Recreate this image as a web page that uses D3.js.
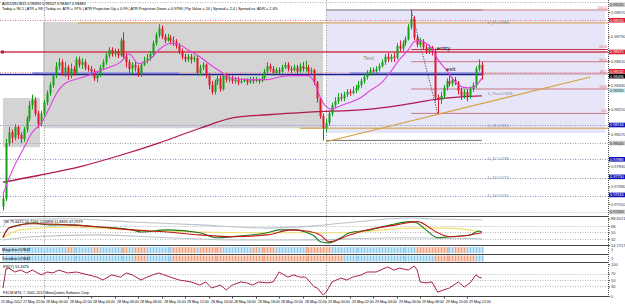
<!DOCTYPE html>
<html>
<head>
<meta charset="utf-8">
<script src="https://cdn.jsdelivr.net/npm/d3@7"></script>
<style>
  body { margin: 0; background: #fff; }
  svg { display: block; font-family: "Liberation Sans", Arial, sans-serif; }
</style>
</head>
<body>
<svg width="625" height="305"></svg>
<script>
// prices are kept in pips above 0.9700 (138 -> 0.9838)
const BASE = 0.97;

// M15 candles [open, high, low, close]
const bars = [
  [53,62,50,59],[59,103,57,100],[100,112,98,108],[108,110,100,104],[104,114,102,112],[112,113,103,106],
  [106,108,100,103],[103,112,101,110],[110,120,108,118],[118,131,116,128],[128,136,125,132],[132,134,120,122],
  [122,124,111,114],[114,124,112,122],[122,132,120,130],[130,139,128,137],[137,145,135,143],[143,152,141,150],
  [150,160,148,157],[157,163,154,160],[160,162,150,152],[152,160,149,156],[156,158,147,150],[150,159,148,155],
  [155,157,150,152],[152,164,151,162],[162,164,156,158],[158,163,155,160],[160,162,154,156],[156,158,153,155],
  [155,157,150,153],[153,155,146,148],[148,153,145,151],[151,158,149,156],[156,162,154,160],[160,167,158,165],
  [165,171,163,169],[169,171,164,166],[166,170,164,168],[168,170,163,165],[165,178,164,176],[176,182,162,164],
  [164,167,156,160],[160,162,152,155],[155,160,151,158],[158,161,153,156],[156,158,149,151],[151,160,149,158],
  [158,164,157,161],[161,166,159,163],[163,168,161,166],[166,176,164,174],[174,182,172,180],[180,188,178,185],
  [185,187,177,179],[179,181,174,176],[176,181,175,178],[178,180,173,176],[176,179,172,175],[175,177,170,172],
  [172,174,166,168],[168,170,162,164],[164,166,160,162],[162,166,160,164],[164,166,159,162],[162,165,160,163],
  [163,165,150,152],[152,158,150,156],[156,160,154,158],[158,159,148,150],[150,152,140,143],[143,146,136,138],
  [138,147,136,145],[145,150,143,148],[148,150,138,140],[140,152,139,150],[150,152,145,147],[147,150,145,148],
  [148,150,144,146],[146,149,144,147],[147,149,143,145],[145,148,144,146],[146,148,145,147],[147,148,143,145],
  [145,149,144,147],[147,149,144,146],[146,149,145,147],[147,148,144,146],[146,150,145,148],[148,155,147,153],
  [153,160,151,157],[157,159,153,155],[155,157,150,152],[152,156,151,154],[154,156,151,153],[153,158,152,156],
  [156,160,155,158],[158,160,153,155],[155,157,152,154],[154,158,153,156],[156,158,151,153],[153,159,152,157],
  [157,160,153,155],[155,161,153,156],[156,158,151,153],[153,156,151,154],[154,155,143,145],[145,146,130,133],
  [133,134,118,120],[120,122,102,111],[111,118,108,115],[115,124,113,122],[122,130,120,128],[128,134,126,131],
  [131,137,129,134],[134,137,131,133],[133,138,131,136],[136,140,134,138],[138,140,135,137],[137,142,136,139],
  [139,143,137,141],[141,146,139,143],[143,148,141,146],[146,151,144,149],[149,154,147,152],[152,156,150,154],
  [154,156,152,153],[153,157,152,155],[155,159,153,157],[157,162,156,160],[160,166,158,164],[164,167,160,162],
  [162,166,160,164],[164,167,160,163],[163,174,162,172],[172,176,168,170],[170,176,168,174],[174,179,172,177],
  [177,188,176,186],[186,198,184,192],[192,194,176,178],[178,180,171,173],[173,178,171,175],[175,177,169,171],
  [171,173,166,168],[168,173,166,171],[171,172,165,168],[168,170,131,134],[134,136,122,132],[132,138,129,135],
  [135,143,133,141],[141,148,139,146],[146,150,142,144],[144,149,142,147],[147,149,143,145],[145,146,136,139],
  [139,141,132,135],[135,140,133,138],[138,140,131,135],[135,142,133,140],[140,145,138,143],[143,157,141,155],
  [155,162,153,158],[158,160,147,150]
];

// moving averages [candle, pips]
const pinkMA = [[0,62],[3,79],[7,96],[10,108],[13,115],[16,127],[18,136],[21,144],[26,148],[29,150],[32,153],
  [36,156],[40,160],[43,166],[46,159],[50,162],[53,169],[57,174],[60,173],[63,169],[67,164],[70,159],[74,153],
  [78,148],[84,147],[90,147],[94,149],[98,150],[104,150],[106,145],[108,134],[110,127],[112,125],[114,127],
  [118,130],[122,134],[125,139],[129,145],[132,153],[135,162],[138,169],[140,175],[142,176],[144,174],[146,170],
  [148,162],[151,154],[153,148],[155,143],[158,141],[160,141],[162,145],[163,148]];
const maroonMA = [[0,71],[12,76],[27,83],[40,91],[53,100],[67,111],[79,119],[90,121],[104,123],[124,125],
  [135,128],[149,133],[163,135]];

// levels (pips)
const redLine = 167.5;
const navyLine = 150.8;
const dottedLevels = [
  { p: 204.5, c: '#b0b0b0' }, { p: 191, c: '#e0707e' }, { p: 152.7, c: '#e08aa0' },
  { p: 113.4, c: '#8c8cd0' }, { p: 100, c: '#a0a0a0' }, { p: 88, c: '#9090b8' },
  { p: 74, c: '#9090b8' }, { p: 61, c: '#9090b8' }, { p: 49, c: '#c0c0c0' }
];
const pivotNames = ['D_R1 0.9889', 'D_Pivot 0.9838', 'D_S1 0.9813', 'D_S2 0.9788', 'D_S3 0.9774', 'D_S4 0.9761'];
const pivotPips = [189, 138, 113, 88, 74, 61];

// fibonacci from the day high to the pull-back low
const fibHigh = 198.6, fibLow = 122, fibFrom = 139, fibTo = 148;
const fibRatios = [0, 23.6, 38.2, 50, 61.8, 100];
const trend = [[110, 101], [200, 149]];

// right axis
const priceTicks = [197, 179, 161, 143, 125, 107, 83, 68, 55];
const priceBoxes = [
  { p: 202.5, c: '#c8c8c8', t: '#333' }, { p: 191, c: '#e01e30', t: '#fff' }, { p: 167.5, c: '#e01e30', t: '#fff' },
  { p: 153.2, c: '#e01e30', t: '#fff' }, { p: 149.6, c: '#000', t: '#fff' }, { p: 139, c: '#bfe8f0', t: '#333' },
  { p: 113.4, c: '#1010c0', t: '#fff' }, { p: 100, c: '#c8c8c8', t: '#333' }, { p: 88, c: '#1010c0', t: '#fff' },
  { p: 75, c: '#1010c0', t: '#fff' }, { p: 61.6, c: '#1010c0', t: '#fff' }, { p: 49, c: '#c8c8c8', t: '#333' }
];

// TSI panel [candle, value]
const tsiGreen = [[0,38],[2,62],[6,71],[10,76],[16,71],[22,71],[33,65],[44,57],[47,51],[56,57],[67,49],[73,35],
  [78,38],[90,49],[94,57],[99,57],[103,51],[106,40],[108,24],[111,21],[115,35],[118,49],[125,57],[132,71],
  [139,80],[141,76],[144,57],[148,35],[152,38],[159,43],[162,54],[163,51]];
const tsiRed = [[0,35],[2,62],[10,74],[22,71],[33,65],[44,57],[56,51],[67,43],[78,38],[90,43],[98,57],[103,54],
  [108,43],[111,24],[118,43],[127,62],[134,71],[141,80],[148,49],[152,38],[159,43],[163,49]];
const tsiYellow = [[0,35],[6,57],[22,65],[44,57],[67,51],[90,49],[108,49],[116,49],[139,62],[152,62],[163,51]];
const tsiUpper = [[0,65],[2,85],[22,88],[44,79],[67,71],[90,62],[106,68],[116,76],[139,90],[145,88],[163,85]];
const tsiLower = [[0,29],[10,38],[33,43],[56,35],[78,29],[101,29],[135,35],[163,32]];
const tsiTicks = [68, 50, 32];

// trend bars: runs of [colour, count]
const magicRuns = [['b',22],['o',2],['b',7],['o',2],['b',8],['o',2],['b',2],['o',4],['b',9],['o',8],['b',1],
  ['o',8],['b',10],['o',2],['b',1],['o',5],['b',10],['o',9],['b',29],['o',11],['b',2],['o',4],['b',6]];
const trendRuns = [['b',45],['o',4],['b',9],['o',58],['b',31],['o',14],['b',3]];

// RSI(7) [candle, value]
const rsi = [[0,25],[1,84],[2,87],[4,75],[6,81],[8,72],[10,81],[13,66],[15,75],[17,72],[19,81],[22,72],[25,75],
  [29,66],[32,59],[34,50],[37,66],[40,59],[42,72],[44,66],[47,50],[49,59],[51,66],[53,72],[57,59],[60,50],
  [64,44],[67,34],[69,44],[71,25],[74,34],[76,19],[78,34],[81,44],[83,41],[85,34],[87,44],[90,41],[92,44],
  [94,75],[97,59],[99,66],[101,59],[103,59],[106,28],[107,25],[109,3],[110,12],[112,44],[115,56],[117,50],
  [119,59],[122,66],[124,75],[127,75],[131,91],[133,81],[135,87],[138,81],[140,94],[141,81],[142,44],[144,41],
  [146,44],[148,12],[150,19],[152,25],[155,44],[157,28],[159,41],[161,66],[162,59],[163,56]];
const rsiTicks = [70, 50, 30];

// time axis
const timeFirst = '25 May 2012';
const timeLabels = ['27 May 22:00','28 May 00:00','28 May 02:00','28 May 04:00','28 May 06:00','28 May 08:00',
  '28 May 10:00','28 May 12:00','28 May 14:00','28 May 16:00','28 May 18:00','28 May 20:00','28 May 22:00',
  '29 May 00:00','29 May 02:00','29 May 04:00','29 May 06:00','29 May 08:00','29 May 10:00','29 May 12:00'];

const titleLine1 = 'AUDUSD,M15  0.98490 0.98507 0.98467 0.98480';
const titleLine2 = 'Today = 96.1   |   ATR = 98   |   Today vs. ATR = 97%   |   ATR Projection Up = 0.99   |   ATR Projection Down = 0.9798   |   Pip Value = 10   |   Spread = 2.4   |   Spread vs. ADR = 2.4%';

// ---------------------------------------------------------------
const SVG = d3.select('svg');
const AX = 608;
const UP = '#14a014', DOWN = '#e0182c';
const fmt = p => (BASE + p / 10000).toFixed(5);

const X = d3.scaleLinear().domain([0, 163]).range([3, 3 + 163 * 2.9375]);
const Y = d3.scaleLinear().domain([46, 206]).range([216, 0]);

function hline(g, y, x1, x2, color, w, dash) {
  g.append('line')
    .attr('x1', x1).attr('x2', x2).attr('y1', y).attr('y2', y)
    .attr('stroke', color).attr('stroke-width', w || 1)
    .attr('stroke-dasharray', dash || null);
}
function label(g, x, y, txt, size, color, anchor) {
  return g.append('text').attr('x', x).attr('y', y).text(txt)
    .style('font-size', size + 'px').style('fill', color || '#000')
    .style('text-anchor', anchor || 'start');
}

// ---------- main panel ----------
const MAIN = SVG.append('g');

// range boxes
MAIN.append('rect').attr('x', X(0)).attr('width', X(12.6) - X(0))
  .attr('y', Y(133.4)).attr('height', Y(97) - Y(133.4)).attr('fill', '#d4d4d4');
MAIN.append('rect').attr('x', X(13.6)).attr('width', X(109) - X(13.6))
  .attr('y', Y(189.7)).attr('height', Y(111) - Y(189.7)).attr('fill', '#d4d4d4');
MAIN.append('rect').attr('x', X(110)).attr('width', X(205) - X(110))
  .attr('y', Y(fibHigh)).attr('height', Y(107.5) - Y(fibHigh)).attr('fill', '#e6e6f8');

// dotted levels
dottedLevels.forEach(d => hline(MAIN, Math.round(Y(d.p)) + 0.5, 0, AX, d.c, 1, '1,1.5'));

// day separators
[14, 110].forEach(i => {
  MAIN.append('line').attr('x1', Math.round(X(i)) + 0.5).attr('x2', Math.round(X(i)) + 0.5)
    .attr('y1', 0).attr('y2', 296).attr('stroke', '#9a9a9a').attr('stroke-dasharray', '1,1.5');
});

// pivot lines (tan)
hline(MAIN, Y(pivotPips[0]), X(25.5), AX, '#d8a860', 1.3);
hline(MAIN, Y(111), X(101), AX, '#d8b070', 1.3);

// today high / low
hline(MAIN, Y(fibHigh), X(110), X(163), '#707070', 1);
hline(MAIN, Y(102), X(110), X(163), '#707070', 1);

// fibonacci
const fibG = MAIN.append('g');
fibRatios.forEach(r => {
  const p = fibLow + (fibHigh - fibLow) * r / 100;
  hline(fibG, Y(p), X(fibFrom), AX, r === 61.8 ? '#c03048' : '#c87884', 1);
  label(fibG, AX - 1, Y(p) - 1, r.toFixed(1), 4, '#e06070', 'end');
});
fibG.append('line').attr('x1', X(fibFrom)).attr('y1', Y(fibHigh)).attr('x2', X(fibTo)).attr('y2', Y(fibLow))
  .attr('stroke', '#333').attr('stroke-dasharray', '1,1.5');

// red resistance + navy line
hline(MAIN, Y(redLine), 0, AX, '#d23a50', 1.6);
MAIN.append('rect').attr('x', 1).attr('y', Y(redLine) - 1.5).attr('width', 3).attr('height', 3).attr('fill', '#b02040');
hline(MAIN, Y(navyLine) - 1.5, X(10), X(60), '#a0a0e0', 2);
hline(MAIN, Y(navyLine) - 1.5, X(118), X(163), '#a0a0e0', 2);
hline(MAIN, Y(navyLine), 0, X(163), '#1c1c8a', 1.6);

// trend line
const lineP = d3.line().x(d => X(d[0])).y(d => Y(d[1]));
MAIN.append('path').attr('d', lineP(trend)).attr('fill', 'none').attr('stroke', '#d8a040').attr('stroke-width', 1.1);

// moving averages
const smooth = d3.line().x(d => X(d[0])).y(d => Y(d[1])).curve(d3.curveMonotoneX);
MAIN.append('path').attr('d', smooth(maroonMA)).attr('fill', 'none').attr('stroke', '#b01850').attr('stroke-width', 1.3);

// candles
const CANDLES = MAIN.append('g');
bars.forEach((b, i) => {
  const [o, h, l, c] = b;
  const col = c >= o ? UP : DOWN;
  const x = Math.round(X(i));
  CANDLES.append('line').attr('x1', x + 0.5).attr('x2', x + 0.5).attr('y1', Y(h)).attr('y2', Y(l))
    .attr('stroke', col).attr('stroke-width', 1);
  CANDLES.append('rect').attr('x', x - 0.5).attr('width', 2)
    .attr('y', Y(Math.max(o, c))).attr('height', Math.max(1, Math.abs(Y(o) - Y(c))))
    .attr('fill', col);
});

MAIN.append('path').attr('d', smooth(pinkMA)).attr('fill', 'none').attr('stroke', '#e040e0').attr('stroke-width', 1.1);

// annotations
label(MAIN, X(122.6), Y(161.6), 'Text', 6, '#8a8a8a');
label(MAIN, X(147.7), Y(169), 'entry', 6, '#000');
label(MAIN, X(150.8), Y(153.4), 'exit', 6, '#000');
pivotNames.forEach((n, k) => label(MAIN, X(163) + 6, Y(pivotPips[k]) + (k === 1 ? 3 : 1), n, 3.6, '#8a8a8a'));

// title
label(MAIN, 2, 4.5, titleLine1, 3.8, '#000');
label(MAIN, 2, 9.5, titleLine2, 3.8, '#000');

// price axis
const PA = SVG.append('g').attr('transform', `translate(${AX},0)`);
const PA_AXIS = d3.axisRight(Y).tickValues(priceTicks).tickFormat(fmt).tickSize(2).tickPadding(1);
PA.call(PA_AXIS);
PA.select('.domain').remove();
PA.selectAll('text').style('font-size', '4px').style('fill', '#333').attr('dy', '0.35em');
PA.selectAll('line').attr('stroke', '#555');
priceBoxes.forEach(d => {
  PA.append('rect').attr('x', 1).attr('y', Y(d.p) - 2.3).attr('width', 16).attr('height', 4.6).attr('fill', d.c);
  label(PA, 2, Y(d.p) + 1.4, fmt(d.p), 3.8, d.t);
});

// ---------- TSI panel ----------
const T = d3.scaleLinear().domain([15, 90]).range([245, 218]);
const TSI = SVG.append('g');
tsiTicks.forEach(v => hline(TSI, Math.round(T(v)) + 0.5, 0, AX, '#b8b8b8', 1, '1,1.5'));
const tsiLine = d3.line().x(d => X(d[0])).y(d => T(d[1])).curve(d3.curveMonotoneX);
[[tsiUpper, '#b8c4cc'], [tsiLower, '#b8c4cc'], [tsiYellow, '#f0e070'], [tsiGreen, '#1a7a1a'], [tsiRed, '#c01818']]
  .forEach(([s, c]) => TSI.append('path').attr('d', tsiLine(s)).attr('fill', 'none').attr('stroke', c).attr('stroke-width', 1.1));
label(TSI, 3, 222.5, 'TSI 79.6472 54.7294 24.8898 11.8839 47.2979', 3.8, '#000');
const TA = SVG.append('g').attr('transform', `translate(${AX},0)`);
TA.call(d3.axisRight(T).tickValues([88.6521, ...tsiTicks, 14.7217]).tickFormat(d => Number.isInteger(d) ? d : d.toFixed(4)).tickSize(2).tickPadding(1));
TA.select('.domain').remove();
TA.selectAll('text').style('font-size', '4px').style('fill', '#333');
TA.selectAll('line').attr('stroke', '#555');

// ---------- trend bar panels ----------
const COLS = { b: '#8ccbee', o: '#f2a07c' };
function barPanel(runs, top, h, name) {
  const g = SVG.append('g');
  let i = 0;
  runs.forEach(([c, n]) => {
    for (let k = 0; k < n; k++, i++) {
      g.append('rect').attr('x', Math.round(X(i)) - 0.5).attr('width', 2).attr('y', top).attr('height', h).attr('fill', COLS[c]);
    }
  });
  label(g, 2, top + h / 2 + 1.4, name, 3.8, '#000');
  label(g, AX + 3, top + h / 2 + 1.4, '1', 4, '#333');
}
barPanel(magicRuns, 247, 6, 'Magicline 0.9847');
barPanel(trendRuns, 255.5, 6, 'Trendline 0.9847');

// ---------- RSI panel ----------
const R = d3.scaleLinear().domain([0, 100]).range([296, 264]);
const RS = SVG.append('g');
rsiTicks.forEach(v => hline(RS, Math.round(R(v)) + 0.5, 0, AX, '#b8b8b8', 1, '1,1.5'));
RS.append('path').attr('d', d3.line().x(d => X(d[0])).y(d => R(d[1]))(rsi))
  .attr('fill', 'none').attr('stroke', '#a8204c').attr('stroke-width', 1);
label(RS, 3, 268, 'RSI(7) 55.3476', 3.8, '#000');
label(RS, 3, 294, 'FXCM MT4, \u00a9 2001-2012 MetaQuotes Software Corp.', 3.6, '#000');
const RA = SVG.append('g').attr('transform', `translate(${AX},0)`);
RA.call(d3.axisRight(R).tickValues([100, ...rsiTicks, 0]).tickSize(2).tickPadding(1));
RA.select('.domain').remove();
RA.selectAll('text').style('font-size', '4px').style('fill', '#333');
RA.selectAll('line').attr('stroke', '#555');

// ---------- frames ----------
const F = SVG.append('g');
[216.5, 245.5, 254.5, 262.5, 296.5].forEach(y => hline(F, y, 0, AX, '#444', 1));
F.append('line').attr('x1', AX + 0.5).attr('x2', AX + 0.5).attr('y1', 0).attr('y2', 297)
  .attr('stroke', '#555').attr('stroke-dasharray', '1,1');

// ---------- time axis ----------
const TM = SVG.append('g');
label(TM, 1, 302.5, timeFirst, 3.6, '#000');
timeLabels.forEach((t, k) => {
  const x = Math.round(X(6 + 8 * k)) + 0.5;
  TM.append('line').attr('x1', x).attr('x2', x).attr('y1', 296.5).attr('y2', 298.5).attr('stroke', '#444');
  label(TM, x + 1.5, 302.5, t, 3.6, '#000');
});
</script>
</body>
</html>
